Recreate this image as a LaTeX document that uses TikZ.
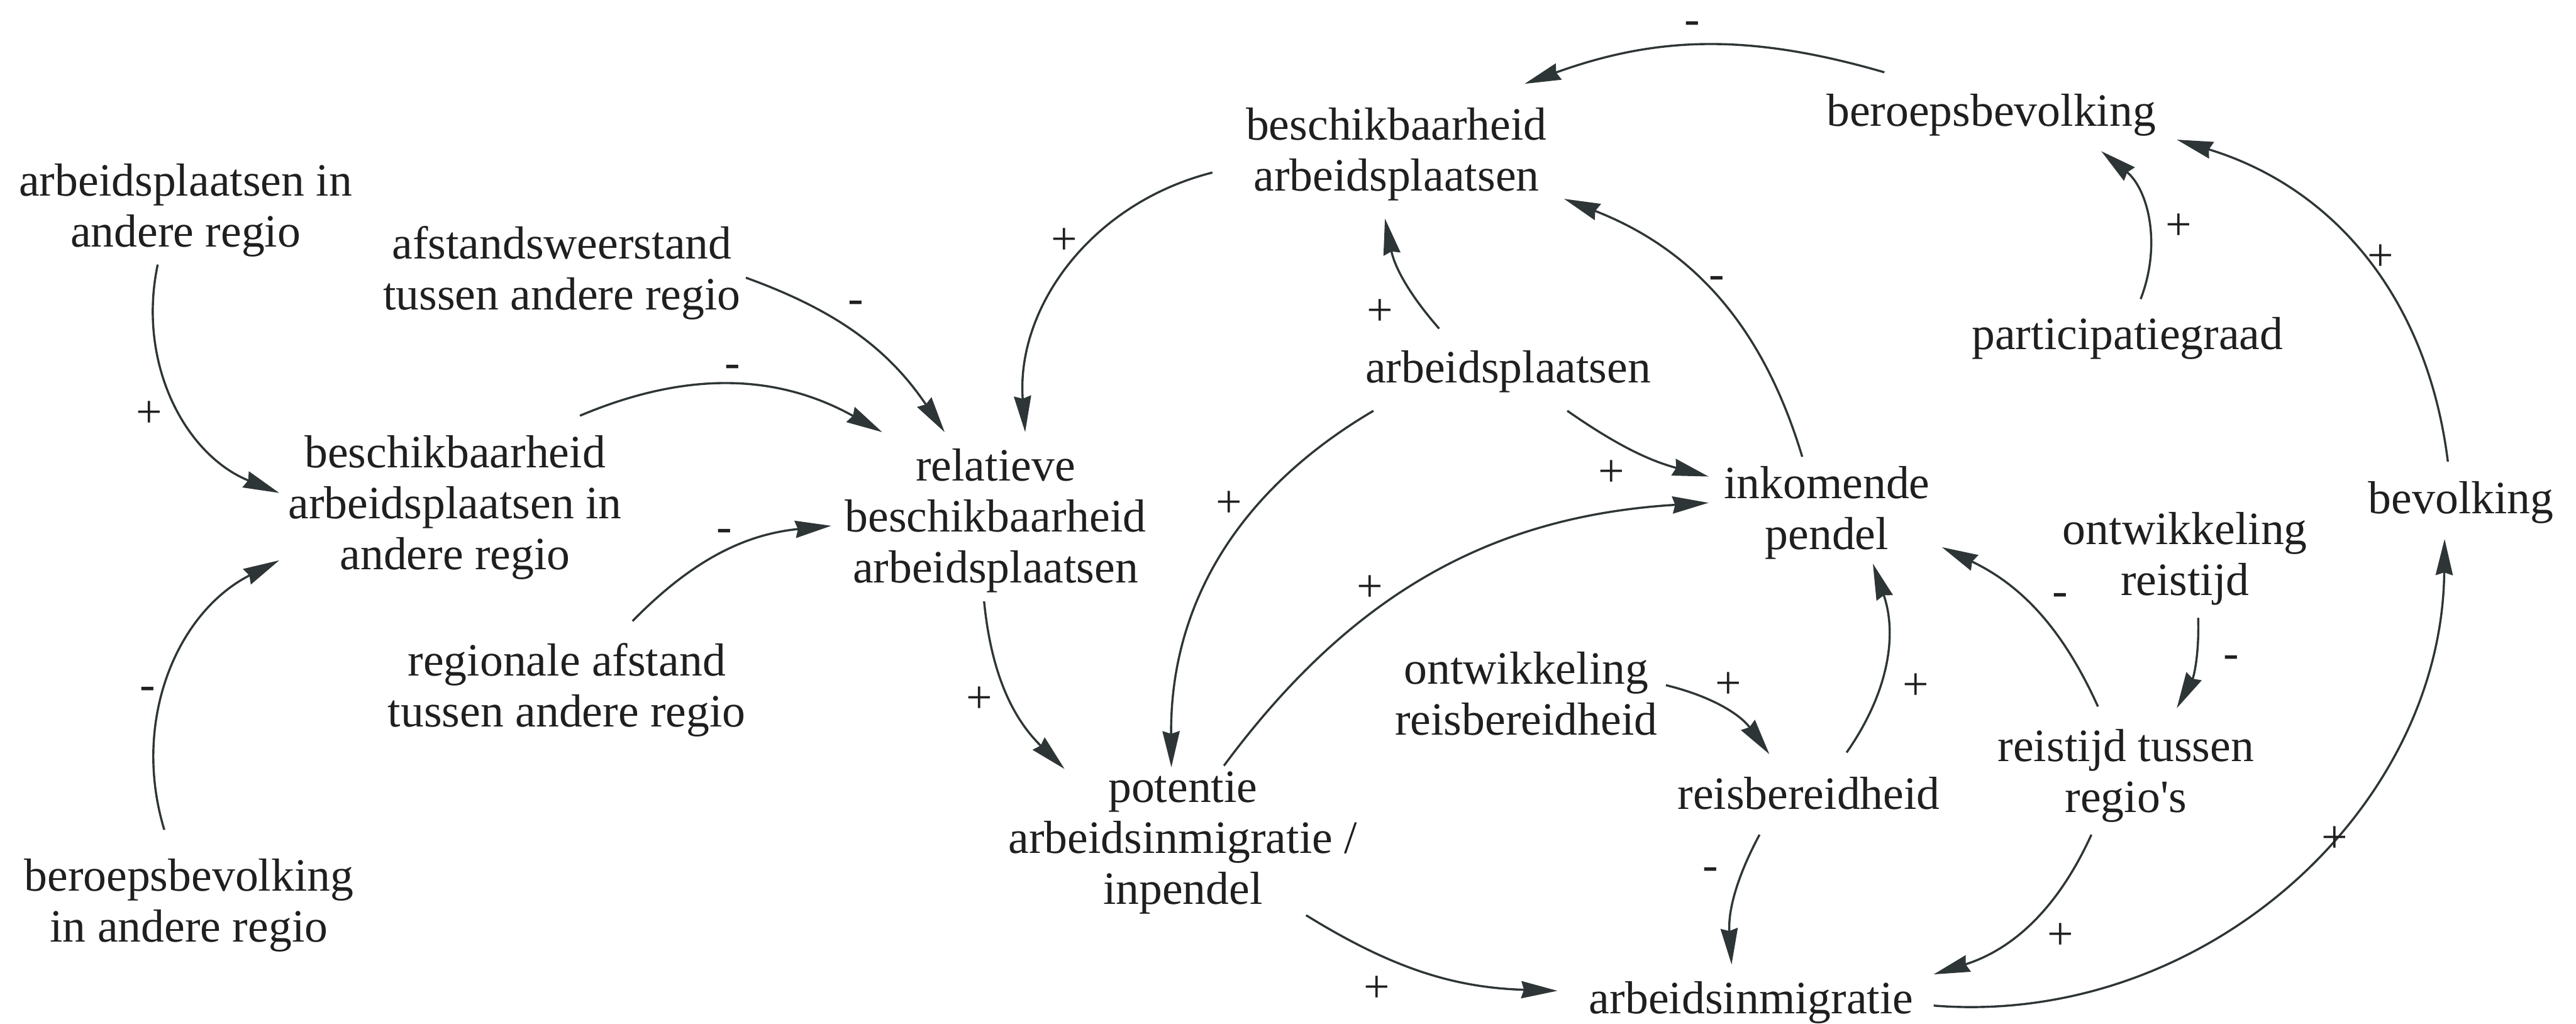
\documentclass[tikz,border=0pt]{standalone}
\usepackage{fontspec}
\setmainfont{Liberation Serif}[Ligatures=TeXOff]
\usetikzlibrary{arrows.meta,calc}
\definecolor{ink}{HTML}{1F1F1F}
\definecolor{wire}{HTML}{2E3536}
\begin{document}
\begin{tikzpicture}[x=0.5pt,y=0.5pt,
  var/.style={inner sep=0pt, align=center, text=ink, font=\fontsize{14.1}{15.5}\selectfont},
  sgn/.style={inner sep=0pt, text=ink, font=\fontsize{14.1}{15.5}\selectfont},
  link/.style={draw=wire, line width=0.65pt, -{Stealth[length=11pt,width=5.2pt,inset=0.8pt]}}]
\useasboundingbox (0,0) rectangle (1568,-623);

% variables of the causal loop diagram
\node[var] (A1) at (113,-128) {arbeidsplaatsen in\\andere regio};
\node[var] (A2) at (342,-166) {afstandsweerstand\\tussen andere regio};
\node[var] (A3) at (277,-309) {beschikbaarheid\\arbeidsplaatsen in\\andere regio};
\node[var] (A4) at (345,-420) {regionale afstand\\tussen andere regio};
\node[var] (A5) at (115,-551) {beroepsbevolking\\in andere regio};
\node[var] (R)  at (606,-317) {relatieve\\beschikbaarheid\\arbeidsplaatsen};
\node[var] (BA) at (850,-94)  {beschikbaarheid\\arbeidsplaatsen};
\node[var] (AP) at (918,-226) {arbeidsplaatsen};
\node[var] (P)  at (720,-513) {potentie\\arbeidsinmigratie /\\inpendel};
\node[var] (IP) at (1112,-312) {inkomende\\pendel};
\node[var] (OR) at (929,-422) {ontwikkeling\\reisbereidheid};
\node[var] (RB) at (1101,-483) {reisbereidheid};
\node[var] (AI) at (1066,-610) {arbeidsinmigratie};
\node[var] (BB) at (1212,-70) {beroepsbevolking};
\node[var] (PG) at (1295,-206) {participatiegraad};
\node[var] (BV) at (1498,-306) {bevolking};
\node[var] (OT) at (1330,-340) {ontwikkeling\\reistijd};
\node[var] (RT) at (1294,-472) {reistijd tussen\\regio's};

% causal links
\draw[link] ($(A1)+(-17,-33)$) to[bend right=40] ($(A3)+(-107,9)$);
\draw[link] ($(A5)+(-15,46)$) to[bend left=40] ($(A3)+(-107,-32)$);
\draw[link] ($(A3)+(76,56)$) to[bend left=26] ($(R)+(-69,54)$);
\draw[link] ($(A2)+(112,-3)$) to[bend left=18] ($(R)+(-31,54)$);
\draw[link] ($(A4)+(40,42)$) to[bend left=20] ($(R)+(-100,-3)$);
\draw[link] ($(BA)+(-112,-11)$) to[bend right=40] ($(R)+(18,54)$);
\draw[link] ($(AP)+(-42,26)$) to[bend left=15] ($(BA)+(-7,-39)$);
\draw[link] ($(IP)+(-15,34)$) to[bend right=26] ($(BA)+(102,-27)$);
\draw[link] ($(BB)+(-65,26)$) to[bend right=18] ($(BA)+(78,43)$);
\draw[link] ($(AP)+(36,-24)$) to[bend right=10] ($(IP)+(-72,22)$);
\draw[link] ($(AP)+(-82,-24)$) to[bend right=30] ($(P)+(-7,46)$);
\draw[link] ($(R)+(-7,-49)$) to[bend right=20] ($(P)+(-72,45)$);
\draw[link] ($(P)+(25,47)$) to[bend left=25] ($(IP)+(-72,6)$);
\draw[link] ($(P)+(75,-44)$) to[bend right=15] ($(AI)+(-118,7)$);
\draw[link] ($(OR)+(85,5)$) to[bend left=20] ($(RB)+(-24,24)$);
\draw[link] ($(RB)+(23,25)$) to[bend right=27] ($(IP)+(28,-31)$);
\draw[link] ($(RB)+(-30,-25)$) to[bend right=16] ($(AI)+(-12,23)$);
\draw[link] ($(RT)+(-17,42)$) to[bend right=20] ($(IP)+(70,-21)$);
\draw[link] ($(OT)+(8,-36)$) to[bend left=15] ($(RT)+(31,41)$);
\draw[link] ($(RT)+(-21,-36)$) to[bend left=24] ($(AI)+(111,17)$);
\draw[link] ($(AI)+(111,-2)$) to[bend right=47] ($(BV)+(-10,-22)$);
\draw[link] ($(BV)+(-8,25)$) to[bend right=33] ($(BB)+(113,-15)$);
\draw[link] ($(PG)+(8,24)$) to[bend right=36] ($(BB)+(67,-22)$);

% polarity signs
\node[sgn] (l1)  at (91,-252)  {+};
\node[sgn] (l2)  at (90,-422)  {-};
\node[sgn] (l3)  at (446,-226) {-};
\node[sgn] (l4)  at (521,-187) {-};
\node[sgn] (l5)  at (441,-326) {-};
\node[sgn] (l6)  at (648,-147) {+};
\node[sgn] (l7)  at (840,-190) {+};
\node[sgn] (l8)  at (1045,-172) {-};
\node[sgn] (l9)  at (1030,-17) {-};
\node[sgn] (l10) at (981,-288) {+};
\node[sgn] (l11) at (748,-307) {+};
\node[sgn] (l12) at (596,-426) {+};
\node[sgn] (l13) at (834,-358) {+};
\node[sgn] (l14) at (838,-602) {+};
\node[sgn] (l15) at (1052,-417) {+};
\node[sgn] (l16) at (1166,-418) {+};
\node[sgn] (l17) at (1041,-532) {-};
\node[sgn] (l18) at (1254,-365) {-};
\node[sgn] (l19) at (1358,-403) {-};
\node[sgn] (l20) at (1254,-570) {+};
\node[sgn] (l21) at (1421,-511) {+};
\node[sgn] (l22) at (1449,-157) {+};
\node[sgn] (l23) at (1326,-138) {+};
\end{tikzpicture}
\end{document}
